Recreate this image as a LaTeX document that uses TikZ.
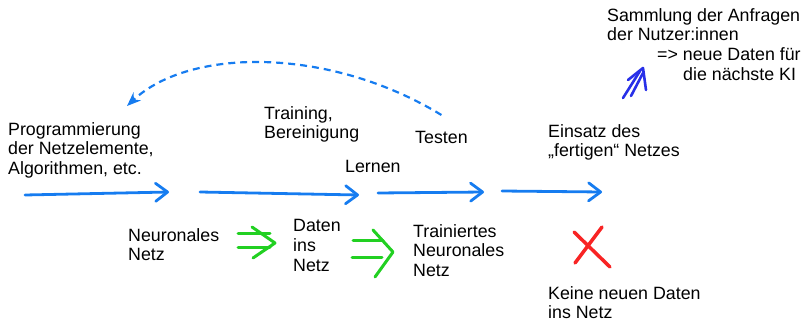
\documentclass[tikz,border=0pt]{standalone}
\usepackage{fontspec}
\setmainfont{Liberation Sans}
\usetikzlibrary{arrows.meta}
\definecolor{flowblue}{RGB}{22,124,240}
\definecolor{deepblue}{RGB}{40,48,232}
\definecolor{markgreen}{RGB}{34,208,34}
\definecolor{markred}{RGB}{248,36,36}
\tikzstyle{flow} = [flowblue, line width=2.8pt, line cap=round, -{Straight Barb[length=12pt,width=18pt,line cap=round,line join=round]}]
\tikzstyle{feedback} = [flowblue, line width=2.2pt, dash pattern=on 7pt off 5pt, -{Stealth[length=14pt,width=11pt]}]
\tikzstyle{markpen} = [line width=3pt, line cap=round, line join=round]
\tikzstyle{txt} = [anchor=north west, align=left, font=\fontsize{17.8}{19.8}\selectfont]

\begin{document}
\begin{tikzpicture}[x=1pt,y=-1pt]
        \tikzstyle{every node}+=[inner sep=0pt]
        \useasboundingbox (0,0) rectangle (806,326);
        % Texte ueber der Zeitleiste
        \node[txt] (prog) at (8,122) {Programmierung\\der Netzelemente,\\Algorithmen, etc.};
        \node[txt] (train) at (264,106) {Training,\\Bereinigung};
        \node[txt] (lernen) at (345,160) {Lernen};
        \node[txt] (testen) at (415,131) {Testen};
        \node[txt] (einsatz) at (548,124) {Einsatz des\\„fertigen“ Netzes};
        \node[txt] (sammlung) at (607,8) {Sammlung der Anfragen\\der Nutzer:innen\\\hspace*{50pt}=> neue Daten für\\\hspace*{76pt}die nächste KI};
        % Texte unter der Zeitleiste
        \node[txt] (neuronal) at (128,228) {Neuronales\\Netz};
        \node[txt] (daten) at (293,219) {Daten\\ins\\Netz};
        \node[txt] (trainiert) at (413,224) {Trainiertes\\Neuronales\\Netz};
        \node[txt] (keine) at (548,286) {Keine neuen Daten\\ins Netz};
        % Zeitleiste
        \coordinate (r1s) at (25,195);
        \coordinate (r1e) at (169,192);
        \coordinate (r2s) at (200,192);
        \coordinate (r2e) at (359,195);
        \coordinate (r3s) at (378,193);
        \coordinate (r3e) at (484,192);
        \coordinate (r4s) at (502,191);
        \coordinate (r4e) at (602,192);
        \draw [flow] (r1s) -- (r1e);
        \draw [flow] (r2s) -- (r2e);
        \draw [flow] (r3s) -- (r3e);
        \draw [flow] (r4s) -- (r4e);
        % zurueck zur Programmierung
        \coordinate (progin) at (127,106);
        \draw [feedback] ([yshift=16pt]testen.north) .. controls (330,47) and (190,47) .. (progin);
        % gruene Folgepfeile
        \draw [markpen, markgreen] (238,233) -- (270,233);
        \draw [markpen, markgreen] (238,247) -- (270,247);
        \draw [markpen, markgreen] (252,227) -- (275,243) -- (253,258);
        \draw [markpen, markgreen] (353,240) -- (383,240);
        \draw [markpen, markgreen] (352,257) -- (382,257);
        \draw [markpen, markgreen] (373,230) -- (393,252) -- (375,277);
        % Rueckfluss der Anfragen
        \draw [markpen, deepblue, line width=2.6pt] (623,98) -- (640,71);
        \draw [markpen, deepblue, line width=2.6pt] (631,96) -- (643,73);
        \draw [markpen, deepblue, line width=2.6pt] (628,80) -- (643,68) -- (646,90);
        % keine neuen Daten
        \draw [markpen, markred, line width=3.5pt] (574,232) -- (610,267);
        \draw [markpen, markred, line width=3.5pt] (602,227) -- (575,263);
\end{tikzpicture}
\end{document}
